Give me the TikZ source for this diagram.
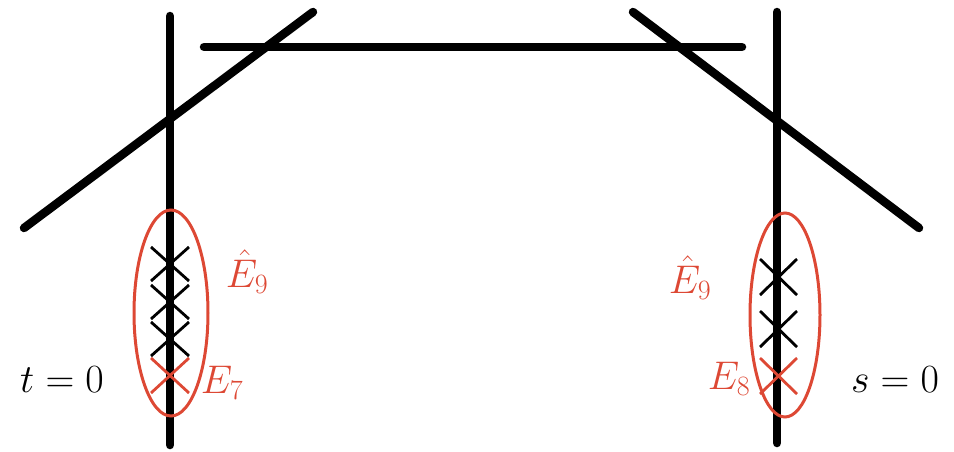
\documentclass[tikz,border=0pt]{standalone}
\usepackage{fix-cm}
\usepackage{tikz}
\begin{document}
\begin{tikzpicture}[x=1pt,y=-1pt,
  curve/.style={line width=8.5pt,line cap=round},
  blowup/.style={line width=3pt,draw=redE},
  crossmark/.style={line width=2.8pt},
  lbl/.style={font=\fontsize{40}{46}\selectfont,inner sep=0pt}]
\definecolor{redE}{RGB}{221,72,52}
\useasboundingbox (0,0) rectangle (954,451);
% vertical fibres
\draw[curve] (170,16) -- (170,445);
\draw[curve] (777,12) -- (777,443);
% horizontal section and the two diagonals
\draw[curve] (204,47) -- (742,47);
\draw[curve] (313,12) -- (24,228);
\draw[curve] (633,12) -- (919,228);
% exceptional curves on the left fibre
\foreach \y in {264,302,339} {
  \draw[crossmark] (151,\y-17) -- (189,\y+17);
  \draw[crossmark] (189,\y-17) -- (151,\y+17);
}
\draw[crossmark,redE] (151,358) -- (189,393);
\draw[crossmark,redE] (189,358) -- (151,393);
\draw[blowup] (171,313) ellipse [x radius=37, y radius=103];
% exceptional curves on the right fibre
\foreach \y in {277,329} {
  \draw[crossmark] (760,\y-18) -- (797,\y+18);
  \draw[crossmark] (797,\y-18) -- (760,\y+18);
}
\draw[crossmark,redE] (760,358) -- (797,394);
\draw[crossmark,redE] (797,358) -- (760,394);
\draw[blowup] (785,315) ellipse [x radius=35, y radius=102];
% labels
\node[lbl,text=redE] (e9l) at (247,272) {$\hat{E}_9$};
\node[lbl,text=redE] (e7) at (222,383) {$E_7$};
\node[lbl] (t0) at (62,380) {$t=0$};
\node[lbl,text=redE] (e9r) at (690,278) {$\hat{E}_9$};
\node[lbl,text=redE] (e8) at (729,379) {$E_8$};
\node[lbl] (s0) at (895,380) {$s=0$};
\end{tikzpicture}
\end{document}
